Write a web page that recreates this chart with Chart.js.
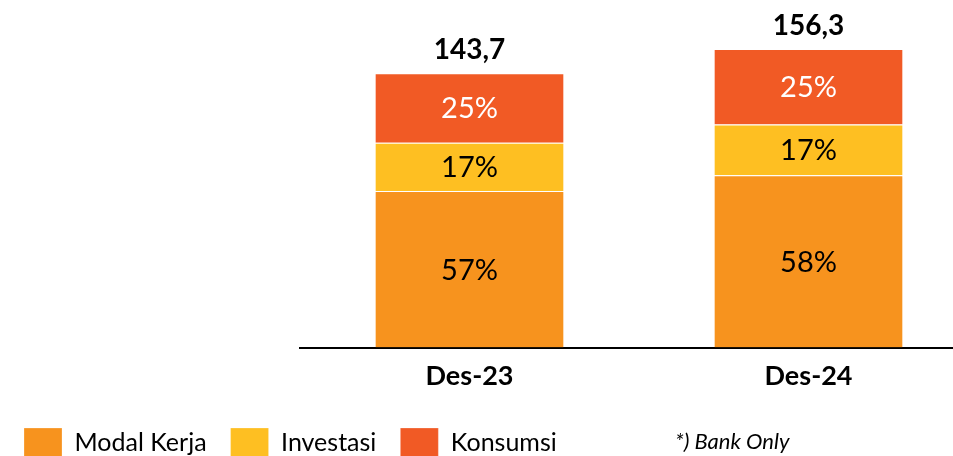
<!DOCTYPE html>
<html>
<head>
<meta charset="utf-8">
<script src="https://cdn.jsdelivr.net/npm/chart.js@4"></script>
<style>
  html, body { margin: 0; padding: 0; background: #fff; overflow: hidden; }
  canvas { display: block; }
</style>
</head>
<body>
<canvas id="myChart" width="978" height="468"></canvas>
<script>
const periode = ['Des-23', 'Des-24']
const modalKerja = [82.0, 90.3]
const investasi = [25.3, 26.5]
const konsumsi = [36.4, 39.5]
const pctModalKerja = ['57%', '58%']
const pctInvestasi = ['17%', '17%']
const pctKonsumsi = ['25%', '25%']
const totalLabel = ['143,7', '156,3']
const catatan = '*) Bank Only'

const pctLabels = [pctModalKerja, pctInvestasi, pctKonsumsi]

// labels inside the bars, totals on top and the footnote
const labelPlugin = {
    id: 'labelPlugin',
    afterDatasetsDraw(chart) {
        const ctx = chart.ctx
        ctx.save()
        ctx.textAlign = 'center'
        ctx.textBaseline = 'middle'
        ctx.font = '29px Lato'
        chart.data.datasets.forEach((ds, di) => {
            const meta = chart.getDatasetMeta(di)
            meta.data.forEach((bar, i) => {
                ctx.fillStyle = di === 2 ? '#ffffff' : '#000000'
                ctx.fillText(pctLabels[di][i], bar.x, (bar.y + bar.base) / 2 + 1)
            })
        })
        const topMeta = chart.getDatasetMeta(chart.data.datasets.length - 1)
        ctx.font = 'bold 28px Lato'
        ctx.fillStyle = '#000000'
        topMeta.data.forEach((bar, i) => {
            ctx.fillText(totalLabel[i], bar.x, bar.y - 23)
        })
        ctx.font = 'italic 22px Lato'
        ctx.textAlign = 'left'
        ctx.textBaseline = 'alphabetic'
        ctx.fillText(catatan, 675, 449)
        ctx.restore()
    }
}

const ctx = document.getElementById('myChart').getContext('2d')

const myChart = new Chart(ctx, {
    type: 'bar',
    data: {
        labels: periode,
        datasets: [{
            label: 'Modal Kerja',
            data: modalKerja,
            backgroundColor: '#F7931E'
        }, {
            label: 'Investasi',
            data: investasi,
            backgroundColor: '#FEBF22'
        }, {
            label: 'Konsumsi',
            data: konsumsi,
            backgroundColor: '#F15A25'
        }]
    },
    options: {
        responsive: false,
        animation: false,
        layout: { padding: { top: 42, left: 0, right: 0, bottom: 0 } },
        datasets: {
            bar: {
                categoryPercentage: 0.555,
                barPercentage: 1,
                borderColor: '#ffffff',
                borderWidth: { top: 1, left: 0, right: 0, bottom: 0 },
                borderSkipped: false
            }
        },
        scales: {
            x: {
                stacked: true,
                grid: { display: false, drawTicks: false },
                border: { display: true, color: '#000000', width: 2 },
                ticks: {
                    color: '#000000',
                    font: { family: 'Lato', size: 27, weight: 'bold' },
                    padding: 12
                }
            },
            y: {
                stacked: true,
                min: 0,
                max: 160,
                grid: { display: false, drawTicks: false },
                border: { display: false },
                ticks: { display: false },
                afterFit(scale) { scale.width = 300 }
            }
        },
        plugins: {
            tooltip: { enabled: false },
            legend: {
                position: 'bottom',
                align: 'start',
                labels: {
                    color: '#000000',
                    font: { family: 'Lato', size: 25 },
                    boxWidth: 38,
                    boxHeight: 30,
                    padding: 24
                }
            }
        }
    },
    plugins: [labelPlugin]
});
</script>
</body>
</html>
